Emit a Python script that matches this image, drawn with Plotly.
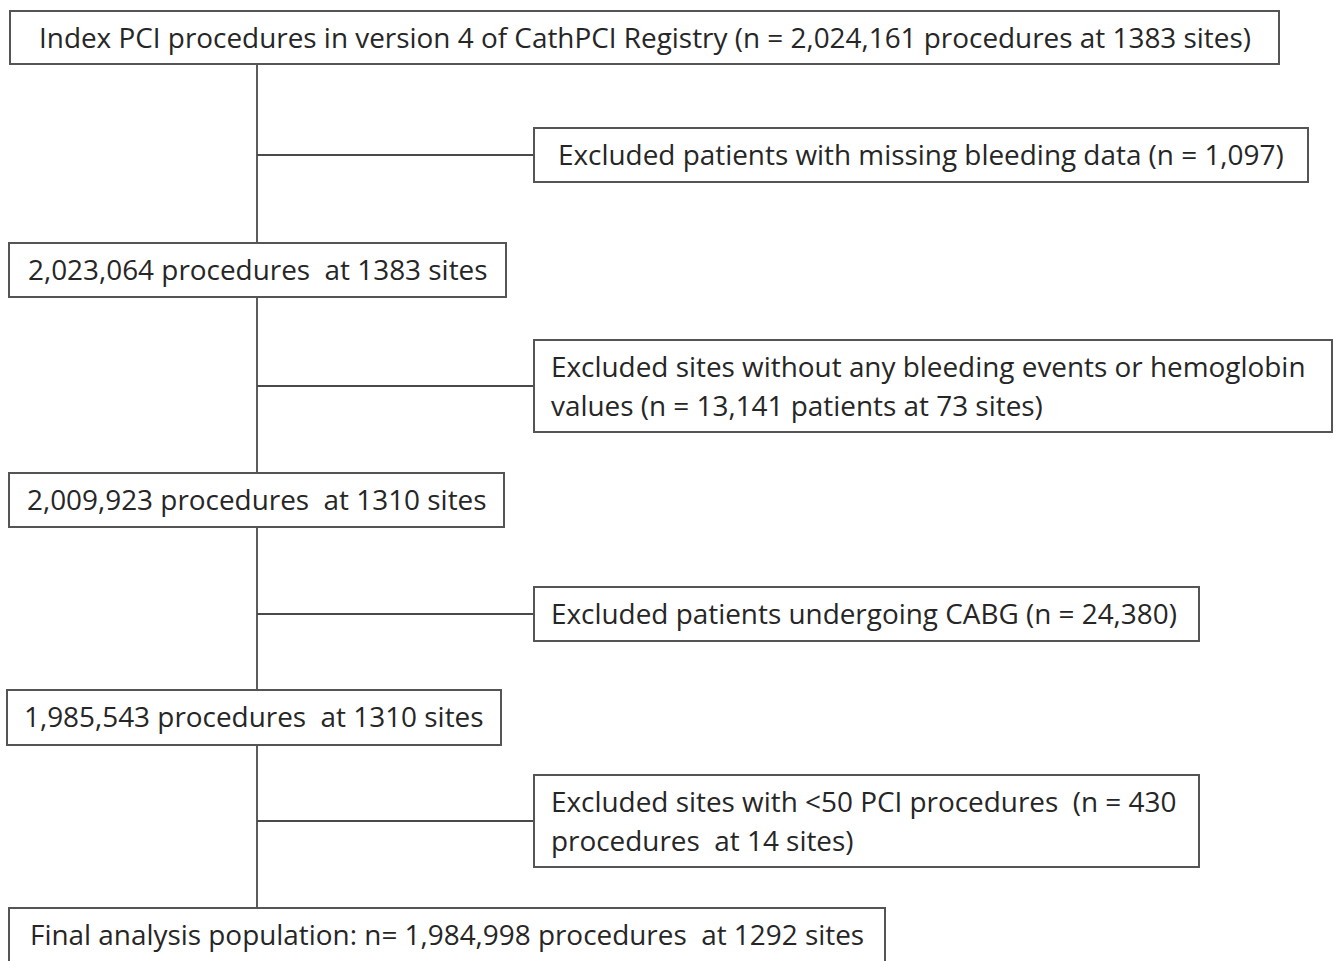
import plotly.graph_objects as go

# ---- data (text content of the flowchart) ----
main_labels = [
    "Index PCI procedures in version 4 of CathPCI Registry (n = 2,024,161 procedures at 1383 sites)",
    "2,023,064 procedures  at 1383 sites",
    "2,009,923 procedures  at 1310 sites",
    "1,985,543 procedures  at 1310 sites",
    "Final analysis population: n= 1,984,998 procedures  at 1292 sites",
]
excl_labels = [
    ["Excluded patients with missing bleeding data (n = 1,097)"],
    ["Excluded sites without any bleeding events or hemoglobin",
     "values (n = 13,141 patients at 73 sites)"],
    ["Excluded patients undergoing CABG (n = 24,380)"],
    ["Excluded sites with <50 PCI procedures  (n = 430",
     "procedures  at 14 sites)"],
]

# ---- layout geometry (pixels) ----
W, H = 1339, 961
main_boxes = [  # x0, x1, y0, y1
    (10, 1279, 11, 64),
    (9, 506, 243, 297),
    (9, 504, 473, 527),
    (7, 501, 690, 745),
    (9, 885, 908, 975),
]
main_text_y = [37, 269, 499, 716, 934]
excl_boxes = [
    (534, 1308, 128, 182),
    (534, 1332, 340, 432),
    (534, 1199, 587, 641),
    (534, 1199, 775, 867),
]
excl_text_x = [556, 549, 549, 549]
excl_line_y = [[154], [366, 405], [613], [801, 840]]
connector_y = [155, 386, 614, 821]
trunk_x = 257
trunk_y = (64, 908)

LINE = "#4a4a4a"
BOX = "#555555"
TXT = "#262626"
FONT = "Open Sans"
FS = 27.9

fig = go.Figure()
# invisible trace to establish axes
fig.add_trace(go.Scatter(x=[0, W], y=[0, H], mode="markers",
                         marker=dict(opacity=0), hoverinfo="skip", showlegend=False))

shapes = []
# trunk
shapes.append(dict(type="line", x0=trunk_x, x1=trunk_x, y0=trunk_y[0], y1=trunk_y[1],
                   line=dict(color=LINE, width=1.8), layer="below"))
# connectors
for cy, b in zip(connector_y, excl_boxes):
    shapes.append(dict(type="line", x0=trunk_x, x1=b[0], y0=cy, y1=cy,
                       line=dict(color=LINE, width=1.8), layer="below"))
# boxes
for b in main_boxes + excl_boxes:
    shapes.append(dict(type="rect", x0=b[0], x1=b[1], y0=b[2], y1=b[3],
                       line=dict(color=BOX, width=2), fillcolor="white", layer="above"))

annotations = []
for lab, b, ty in zip(main_labels, main_boxes, main_text_y):
    annotations.append(dict(x=(b[0] + b[1]) / 2, y=ty, text=lab, showarrow=False,
                            xanchor="center", yanchor="middle",
                            font=dict(family=FONT, size=FS, color=TXT)))
for lines, tx, ys in zip(excl_labels, excl_text_x, excl_line_y):
    for ln, ly in zip(lines, ys):
        annotations.append(dict(x=tx, y=ly, text=ln.replace("<", "&lt;"), showarrow=False,
                                xanchor="left", yanchor="middle",
                                font=dict(family=FONT, size=FS, color=TXT)))

fig.update_layout(
    width=W, height=H,
    margin=dict(l=0, r=0, t=0, b=0),
    paper_bgcolor="white", plot_bgcolor="white",
    xaxis=dict(range=[0, W], visible=False, fixedrange=True),
    yaxis=dict(range=[H, 0], visible=False, fixedrange=True),
    shapes=shapes, annotations=annotations,
    showlegend=False,
)

fig.write_html("out.html", config={"displayModeBar": False},
               post_script="document.body.style.margin='0px';document.body.style.overflow='hidden';")
